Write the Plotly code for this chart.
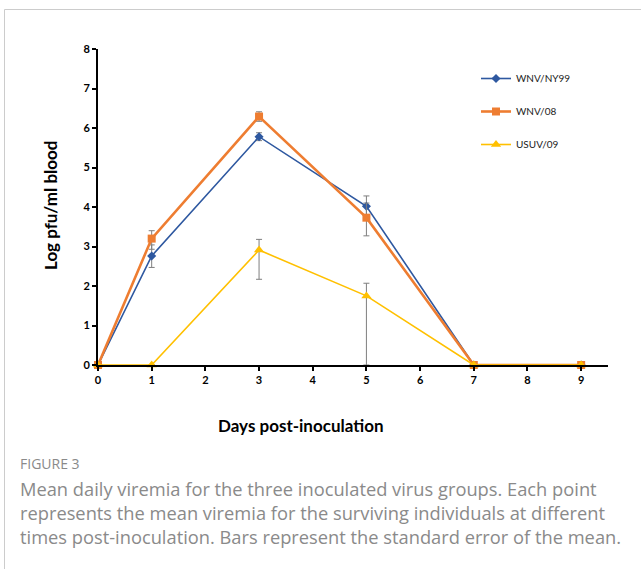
import plotly.graph_objects as go

days = [0, 1, 3, 5, 7, 9]
series_names = ["WNV/NY99", "WNV/08", "USUV/09"]
ny99 = [0, 2.76, 5.78, 4.02, 0, 0]
ny99_err_plus = [0, 0.28, 0.1, 0.26, 0, 0]
ny99_err_minus = [0, 0.29, 0.1, 0.26, 0, 0]
w08 = [0, 3.2, 6.29, 3.73, 0, 0]
w08_err_plus = [0, 0.2, 0.12, 0.37, 0, 0]
w08_err_minus = [0, 0.27, 0.12, 0.46, 0, 0]
usuv = [0, 0, 2.91, 1.75, 0, 0]
usuv_err_plus = [0, 0, 0.27, 0.32, 0, 0]
usuv_err_minus = [0, 0, 0.74, 1.75, 0, 0]
y_ticks = [0, 1, 2, 3, 4, 5, 6, 7, 8]
x_ticks = [0, 1, 2, 3, 4, 5, 6, 7, 8, 9]
caption_lines = [
    "Mean daily viremia for the three inoculated virus groups. Each point",
    "represents the mean viremia for the surviving individuals at different",
    "times post-inoculation. Bars represent the standard error of the mean.",
]

colors = ["#2E58A0", "#EE7D31", "#FFC000"]
symbols = ["diamond", "square", "triangle-up"]
sizes = [7, 8, 9]
widths = [1.6, 2.6, 1.6]
values = [ny99, w08, usuv]
eplus = [ny99_err_plus, w08_err_plus, usuv_err_plus]
eminus = [ny99_err_minus, w08_err_minus, usuv_err_minus]

fig = go.Figure()
for i in range(3):
    fig.add_trace(go.Scatter(
        x=days, y=values[i], name=series_names[i], mode="lines+markers",
        legendgroup=f"g{i}",
        line=dict(color=colors[i], width=widths[i]),
        marker=dict(symbol=symbols[i], size=sizes[i], color=colors[i]),
        error_y=dict(type="data", array=eplus[i], arrayminus=eminus[i],
                     color="#7F7F7F", thickness=1, width=3, symmetric=False),
        cliponaxis=False,
    ))

L, R, T, B = 98, 33, 49, 204
W, H = 641, 569
pw = W - L - R
ph = H - T - B

def px(x):
    return (x - L) / pw

def py(y):
    return (H - B - y) / ph

font_main = "Lato, 'Open Sans', sans-serif"
font_cap = "'Open Sans', Lato, sans-serif"

annotations = [
    dict(text="<b>Log pfu/ml blood</b>", xref="paper", yref="paper",
         x=px(50), y=py(206), xanchor="center", yanchor="middle",
         textangle=-90, showarrow=False,
         font=dict(size=17, family=font_main, color="#000")),
    dict(text="<b>Days post-inoculation</b>", xref="paper", yref="paper",
         x=px(301), y=py(425), xanchor="center", yanchor="middle", showarrow=False,
         font=dict(size=17, family=font_main, color="#000")),
    dict(text="FIGURE 3", xref="paper", yref="paper", x=px(18), y=py(464),
         xanchor="left", yanchor="middle", showarrow=False,
         font=dict(size=14, family=font_cap, color="#8A8A8A")),
]
for k, line in enumerate(caption_lines):
    annotations.append(dict(text=line, xref="paper", yref="paper", x=px(18),
                            y=py(488 + 24 * k), xanchor="left", yanchor="middle",
                            showarrow=False,
                            font=dict(size=18.3, family=font_cap, color="#8A8A8A")))

fig.update_layout(
    width=W, height=H,
    margin=dict(l=L, r=R, t=T, b=B, pad=0),
    plot_bgcolor="white", paper_bgcolor="white",
    font=dict(family=font_main, color="#000"),
    showlegend=True,
    legend=dict(x=px(476), y=py(64), xanchor="left", yanchor="top",
                font=dict(size=10, color="#222", family=font_main),
                tracegroupgap=14, bgcolor="rgba(0,0,0,0)", itemwidth=30),
    xaxis=dict(range=[0, 9.5], tickvals=x_ticks, showgrid=False, zeroline=False,
               showline=True, linecolor="#000", linewidth=2,
               ticks="outside", ticklen=4, tickwidth=1.5, tickcolor="#000",
               tickfont=dict(size=11, family=font_main, weight="bold", color="#000")),
    yaxis=dict(range=[0, 8], tickvals=y_ticks, showgrid=False, zeroline=False,
               showline=True, linecolor="#000", linewidth=2,
               ticks="outside", ticklen=4, tickwidth=1.5, tickcolor="#000",
               tickfont=dict(size=11, family=font_main, weight="bold", color="#000")),
    shapes=[dict(type="path", xref="paper", yref="paper",
                 path=f"M {px(4.5)} {py(569)} L {px(4.5)} {py(9.5)} L {px(641)} {py(9.5)}",
                 line=dict(color="#CCCCCC", width=1))],
    annotations=annotations,
)

fig.write_html("out.html")
